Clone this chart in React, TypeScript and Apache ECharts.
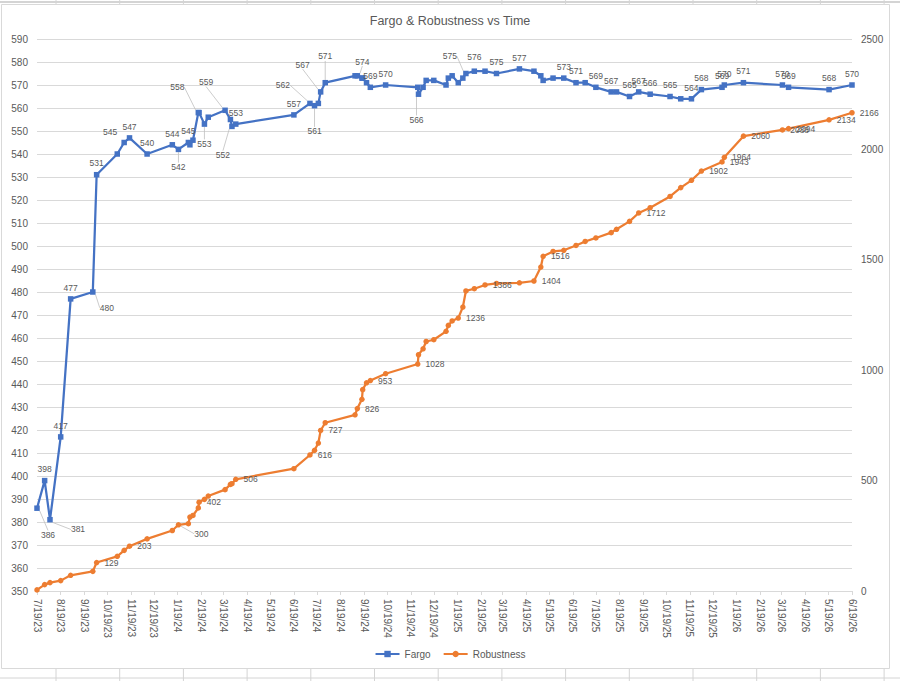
import React, { useEffect, useRef } from 'react';
import * as echarts from 'echarts';

// ---- data ----
const dates = [
  '7/19/23','7/29/23','8/5/23','8/19/23','9/1/23','9/30/23','10/5/23','11/1/23','11/10/23','11/17/23',
  '12/10/23','1/12/24','1/20/24','2/2/24','2/4/24','2/8/24','2/15/24','2/16/24','2/23/24','2/28/24',
  '3/21/24','3/28/24','3/30/24','4/4/24','6/19/24','7/10/24','7/16/24','7/21/24','7/24/24','7/30/24',
  '9/7/24','9/10/24','9/16/24','9/17/24','9/22/24','9/27/24','10/17/24','11/28/24','11/29/24','12/5/24',
  '12/9/24','12/19/24','1/4/25','1/7/25','1/12/25','1/20/25','1/26/25','1/30/25','2/10/25','2/24/25',
  '3/11/25','4/10/25','4/29/25','5/8/25','5/11/25','5/24/25','6/7/25','6/23/25','7/5/25','7/19/25',
  '8/8/25','8/15/25','9/1/25','9/13/25','9/28/25','10/24/25','11/7/25','11/21/25','12/4/25','12/31/25',
  '1/3/26','1/28/26','3/20/26','3/28/26','5/20/26','6/19/26'
];

const fargo = [
  386,398,381,417,477,480,531,540,545,547,
  540,544,542,545,544,546,558,558,553,556,
  559,555,552,553,557,562,561,562,567,571,
  574,574,573,573,571,569,570,569,566,569,
  572,572,570,573,574,571,573,575,576,576,
  575,577,576,574,572,573,573,571,571,569,
  567,567,565,567,566,565,564,564,568,569,
  570,571,570,569,568,570
];

const robustness = [
  5,29,38,47,71,89,129,157,184,203,
  236,274,300,305,335,342,376,402,415,430,
  459,483,486,506,554,616,637,670,727,762,
  798,826,868,912,943,953,984,1028,1070,1097,
  1130,1138,1176,1203,1223,1236,1286,1359,1369,1386,
  1393,1396,1404,1467,1516,1538,1543,1565,1583,1599,
  1623,1638,1674,1712,1736,1787,1827,1860,1902,1943,
  1964,2060,2088,2094,2134,2166
];

const xTickLabels = [
  '7/19/23','8/19/23','9/19/23','10/19/23','11/19/23','12/19/23','1/19/24','2/19/24','3/19/24','4/19/24',
  '5/19/24','6/19/24','7/19/24','8/19/24','9/19/24','10/19/24','11/19/24','12/19/24','1/19/25','2/19/25',
  '3/19/25','4/19/25','5/19/25','6/19/25','7/19/25','8/19/25','9/19/25','10/19/25','11/19/25','12/19/25',
  '1/19/26','2/19/26','3/19/26','4/19/26','5/19/26','6/19/26'
];

// indices of points that carry a data label
const fargoLabelIdx = [0,1,2,3,4,5,6,8,9,10,11,12,13,16,18,20,22,23,24,25,26,28,29,31,35,36,38,47,48,50,51,56,57,59,60,62,63,64,65,67,68,69,70,71,72,73,74,75];
const robustLabelIdx = [6,9,12,17,23,25,28,31,35,37,45,49,52,54,63,68,69,70,71,72,73,74,75];

// label displacement (style), leader-line flags
const fargoMoves: Record<number, [number, number, boolean]> = {
  0: [11, 38, true], 2: [28, 21, true], 5: [14, 27, true], 8: [-14, 1, false], 12: [0, 29, true],
  16: [-21, -14, true], 18: [0, 31, true], 20: [-19, -17, true], 22: [-9, 40, true], 25: [-27, -7, true],
  26: [0, 37, true], 28: [-18, -16, true], 29: [0, -15, true], 31: [5, -3, true], 38: [-2, 37, true],
  47: [-16, -6, true], 48: [0, -3, false]
};
const robustMoves: Record<number, [number, number, boolean]> = {
  12: [8, 9, true]
};

const DAY = 86400000;
function toTime(s: string): number {
  const [m, d, y] = s.split('/').map(Number);
  return Date.UTC(2000 + y, m - 1, d);
}

function fmt(t: number): string {
  const d = new Date(Math.round(t / DAY) * DAY);
  return `${d.getUTCMonth() + 1}/${d.getUTCDate()}/${String(d.getUTCFullYear()).slice(2)}`;
}

const FONT = 'Liberation Sans';
const TXT = '#595959';
const GRID = '#d9d9d9';

export default function App() {
  const ref = useRef<HTMLDivElement>(null);

  useEffect(() => {
    if (!ref.current) return;
    const chart = echarts.init(ref.current, undefined, { renderer: 'svg' });

    const tickTimes = xTickLabels.map(toTime);
    const fSet = new Set(fargoLabelIdx);
    const rSet = new Set(robustLabelIdx);

    const fData = fargo.map((v, i) => {
      const item: any = { value: [toTime(dates[i]), v] };
      if (fSet.has(i)) {
        item.label = { show: true };
        const mv = fargoMoves[i];
        if (mv && mv[2]) item.labelLine = { show: true };
      }
      return item;
    });
    const rData = robustness.map((v, i) => {
      const item: any = { value: [toTime(dates[i]), v] };
      if (rSet.has(i)) {
        item.label = { show: true };
        const mv = robustMoves[i];
        if (mv && mv[2]) item.labelLine = { show: true };
      }
      return item;
    });

    // spreadsheet cell lines around the chart box (decoration)
    const cellLines: any[] = [];
    for (let x = 56; x < 900; x += 63.7) {
      cellLines.push({ type: 'line', shape: { x1: x, y1: 0, x2: x, y2: 4 }, style: { stroke: '#d4d4d4', lineWidth: 1 }, silent: true });
      cellLines.push({ type: 'line', shape: { x1: x, y1: 669, x2: x, y2: 681 }, style: { stroke: '#d4d4d4', lineWidth: 1 }, silent: true });
    }

    chart.setOption({
      animation: false,
      backgroundColor: '#ffffff',
      textStyle: { fontFamily: FONT },
      graphic: [
        ...cellLines,
        { type: 'line', shape: { x1: 0, y1: 2, x2: 900, y2: 2 }, style: { stroke: '#d4d4d4', lineWidth: 2 }, silent: true },
        { type: 'line', shape: { x1: 0, y1: 678, x2: 900, y2: 678 }, style: { stroke: '#d4d4d4', lineWidth: 1 }, silent: true },
        { type: 'rect', shape: { x: 1.5, y: 4.5, width: 888, height: 664 }, style: { fill: 'none', stroke: '#d9d9d9', lineWidth: 1 }, silent: true, z: -1 }
      ],
      title: {
        text: 'Fargo & Robustness vs Time',
        left: 'center',
        top: 9,
        textStyle: { fontFamily: FONT, fontSize: 12.5, fontWeight: 'normal', color: TXT }
      },
      legend: {
        bottom: 17,
        left: 'center',
        itemWidth: 24,
        itemHeight: 8,
        itemGap: 12,
        textStyle: { fontFamily: FONT, fontSize: 10, color: TXT },
        data: ['Fargo', 'Robustness']
      },
      grid: { left: 37, right: 48, top: 39, bottom: 90 },
      xAxis: {
        type: 'value',
        min: toTime('7/19/23'),
        max: toTime('6/19/26'),
        axisLine: { show: true, onZero: false, lineStyle: { color: GRID } },
        axisTick: { show: true, length: 4, lineStyle: { color: GRID }, customValues: tickTimes },
        splitLine: { show: false },
        axisLabel: {
          customValues: tickTimes,
          rotate: -90,
          margin: 8,
          fontFamily: FONT,
          fontSize: 10,
          color: TXT,
          formatter: (v: number) => fmt(v)
        }
      },
      yAxis: [
        {
          type: 'value',
          min: 350,
          max: 590,
          interval: 10,
          axisLine: { show: false },
          axisTick: { show: false },
          splitLine: { lineStyle: { color: GRID, width: 1 } },
          axisLabel: { fontFamily: FONT, fontSize: 10, color: TXT, margin: 9 }
        },
        {
          type: 'value',
          min: 0,
          max: 2500,
          interval: 500,
          axisLine: { show: false },
          axisTick: { show: false },
          splitLine: { show: false },
          axisLabel: { fontFamily: FONT, fontSize: 10, color: TXT, margin: 9, formatter: (v: number) => String(v) }
        }
      ],
      series: [
        {
          name: 'Fargo',
          type: 'line',
          yAxisIndex: 0,
          data: fData,
          symbol: 'rect',
          symbolSize: 5.5,
          showAllSymbol: true,
          lineStyle: { color: '#4472C4', width: 2.25 },
          itemStyle: { color: '#4472C4' },
          label: { show: false, position: 'top', distance: 4, fontFamily: FONT, fontSize: 8.5, color: TXT },
          labelLine: { show: false, lineStyle: { color: '#bfbfbf', width: 0.8 } },
          labelLayout: (p: any) => {
            const mv = fargoMoves[p.dataIndex];
            return mv ? { dx: mv[0], dy: mv[1] } : {};
          },
          z: 3
        },
        {
          name: 'Robustness',
          type: 'line',
          yAxisIndex: 1,
          data: rData,
          symbol: 'circle',
          symbolSize: 5.5,
          showAllSymbol: true,
          lineStyle: { color: '#ED7D31', width: 2.25 },
          itemStyle: { color: '#ED7D31' },
          label: { show: false, position: 'right', distance: 5, offset: [0, 3], fontFamily: FONT, fontSize: 8.5, color: TXT },
          labelLine: { show: false, lineStyle: { color: '#bfbfbf', width: 0.8 } },
          labelLayout: (p: any) => {
            const mv = robustMoves[p.dataIndex];
            return mv ? { dx: mv[0], dy: mv[1] } : {};
          },
          z: 2
        }
      ]
    });

    return () => chart.dispose();
  }, []);

  return (
    <div
      ref={ref}
      style={{ position: 'absolute', left: 0, top: 0, width: 900, height: 681, background: '#fff' }}
    />
  );
}
